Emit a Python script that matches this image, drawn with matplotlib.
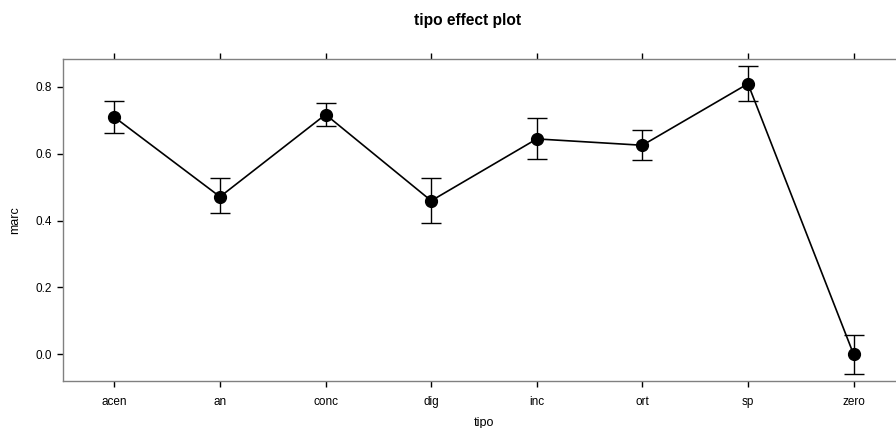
import numpy as np
import matplotlib
matplotlib.use("Agg")
import matplotlib.pyplot as plt

plt.rcParams['font.family'] = ['Liberation Sans', 'DejaVu Sans']

tipo = ['acen', 'an', 'conc', 'dig', 'inc', 'ort', 'sp', 'zero']
marc = [0.709, 0.471, 0.717, 0.459, 0.644, 0.625, 0.809, 0.0]
lower = [0.661, 0.421, 0.683, 0.392, 0.583, 0.581, 0.757, -0.058]
upper = [0.758, 0.526, 0.752, 0.528, 0.707, 0.671, 0.862, 0.059]

W, H = 896, 428
fig = plt.figure(figsize=(W / 100, H / 100), dpi=100)
# frame runs past the right edge of the picture, like the cropped original
ax = fig.add_axes([63 / W, 1 - 381 / H, (905 - 63) / W, (381 - 59) / H])

x = np.arange(len(tipo))
m = np.array(marc)
yerr = [m - np.array(lower), np.array(upper) - m]
ax.errorbar(x, m, yerr=yerr, fmt='none', ecolor='black', elinewidth=1,
            capsize=7.5, capthick=1)
ax.plot(x, m, color='black', lw=1.2, marker='o', markersize=8.5)

ax.set_xlim(-0.487, len(tipo) - 1 + 0.487)
ax.set_ylim(-0.080, 0.883)
ax.set_xticks(x)
ax.set_xticklabels(tipo)
ax.set_yticks([0.0, 0.2, 0.4, 0.6, 0.8])
ax.set_yticklabels(['0.0', '0.2', '0.4', '0.6', '0.8'])
ax.tick_params(axis='x', top=True, bottom=True, direction='out', length=4,
               width=1, labelsize=8.5, pad=7)
ax.tick_params(axis='y', left=True, right=False, direction='out', length=4,
               width=1, labelsize=8.5, pad=4)
for s in ax.spines.values():
    s.set_color('#808080')
    s.set_linewidth(1)

ax.set_xlabel('tipo', fontsize=9, labelpad=6)
ax.set_ylabel('marc', fontsize=9, labelpad=10)
fig.text(468 / W, 1 - 20 / H, 'tipo effect plot', ha='center', va='center',
         fontsize=11.2, fontweight='bold')

fig.savefig('out.png', dpi=100)
